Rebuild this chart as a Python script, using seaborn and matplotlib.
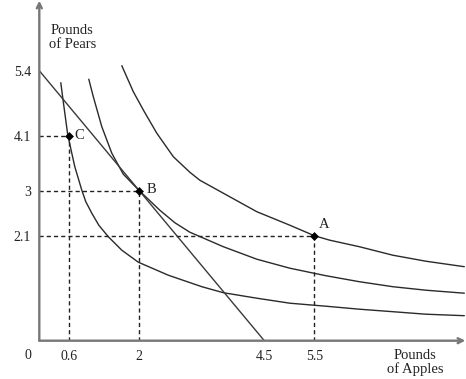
import matplotlib
matplotlib.use("Agg")
import matplotlib.pyplot as plt
import seaborn as sns
import pandas as pd

# ---- data ----
budget_x = [0.0, 4.5]
budget_y = [5.4, 0.0]

inner_x = [0.43, 0.47, 0.57, 0.71, 0.85, 0.93, 1.05, 1.19, 1.38, 1.65, 1.98, 2.58, 3.25,
           3.68, 4.35, 5.01, 5.73, 6.4, 7.07, 7.73, 8.5]
inner_y = [5.16, 4.85, 4.11, 3.48, 3.01, 2.78, 2.55, 2.31, 2.08, 1.81, 1.57, 1.31, 1.08,
           0.96, 0.85, 0.75, 0.69, 0.63, 0.58, 0.53, 0.5]

middle_x = [0.99, 1.08, 1.25, 1.45, 1.68, 2.0, 2.41, 2.71, 3.01, 3.68, 4.35, 5.01, 5.73,
            6.4, 7.07, 7.73, 8.5]
middle_y = [5.23, 4.88, 4.28, 3.75, 3.33, 3.0, 2.61, 2.36, 2.17, 1.88, 1.63, 1.45, 1.30,
            1.18, 1.08, 1.01, 0.95]

outer_x = [1.65, 1.88, 2.1, 2.35, 2.68, 3.01, 3.21, 3.68, 4.35, 5.01, 5.5, 5.81, 6.4,
           7.07, 7.73, 8.5]
outer_y = [5.5, 4.98, 4.58, 4.15, 3.68, 3.37, 3.21, 2.95, 2.58, 2.31, 2.1, 2.01, 1.88,
           1.71, 1.59, 1.48]

point_names = ["C", "B", "A"]
point_x = [0.6, 2.0, 5.5]
point_y = [4.1, 3.0, 2.1]

x_ticks = [0.6, 2, 4.5, 5.5]
x_tick_labels = ["0.6", "2", "4.5", "5.5"]
y_ticks = [2.1, 3, 4.1, 5.4]
y_tick_labels = ["2.1", "3", "4.1", "5.4"]

# ---- style ----
sns.set_theme(style="white")
plt.rcParams["font.family"] = ["Liberation Serif", "DejaVu Serif"]

W, H = 466, 379
fig = plt.figure(figsize=(W / 100, H / 100), dpi=100)
ax = fig.add_axes([39.3 / W, (H - 340.7) / H, 425 / W, 338.5 / H])
ax.set_xlim(0, 8.5)
ax.set_ylim(0, 6.77)

curve_col = "#2a2a2a"
for cx, cy in [(inner_x, inner_y), (middle_x, middle_y), (outer_x, outer_y)]:
    df = pd.DataFrame({"x": cx, "y": cy})
    sns.lineplot(data=df, x="x", y="y", sort=False, estimator=None,
                 color=curve_col, lw=1.0, ax=ax, clip_on=False)

bdf = pd.DataFrame({"x": budget_x, "y": budget_y})
sns.lineplot(data=bdf, x="x", y="y", sort=False, estimator=None,
             color="#3a3a3a", lw=1.0, ax=ax)

# dashed guide lines
for px, py in zip(point_x, point_y):
    ax.plot([0, px], [py, py], color="#222222", lw=1.0, ls=(0, (3, 2.2)))
    ax.plot([px, px], [0, py], color="#222222", lw=1.0, ls=(0, (3, 2.2)))

pdf = pd.DataFrame({"x": point_x, "y": point_y, "name": point_names})
sns.scatterplot(data=pdf, x="x", y="y", marker="D", s=16, color="black",
                edgecolor="black", linewidth=0.5, ax=ax, zorder=5)

label_offsets = {"C": (0.11, 0.0), "B": (0.14, 0.03), "A": (0.1, 0.23)}
for n, px, py in zip(point_names, point_x, point_y):
    dx, dy = label_offsets[n]
    ax.text(px + dx, py + dy, n, fontsize=10.5, color="#222222",
            ha="left", va="center")

# axes with arrows
for s in ax.spines.values():
    s.set_visible(False)
axis_col = "#777777"
ax.annotate("", xy=(8.52, 0), xytext=(0, 0), annotation_clip=False,
            arrowprops=dict(arrowstyle="->", color=axis_col, lw=1.7,
                            shrinkA=0, shrinkB=0, mutation_scale=9))
ax.annotate("", xy=(0, 6.8), xytext=(0, 0), annotation_clip=False,
            arrowprops=dict(arrowstyle="->", color=axis_col, lw=1.7,
                            shrinkA=0, shrinkB=0, mutation_scale=9))

ax.set_xticks(x_ticks)
ax.set_xticklabels(x_tick_labels)
ax.set_yticks(y_ticks)
ax.set_yticklabels(y_tick_labels)
ax.tick_params(axis="both", length=0, labelsize=10, colors="#222222")
ax.tick_params(axis="x", pad=7)
ax.tick_params(axis="y", pad=6)
ax.set_xlabel("")
ax.set_ylabel("")

ax.text(-0.23, -0.29, "0", fontsize=10, color="#222222", ha="center", va="center")
ax.text(0.66, 6.06, "Pounds\nof Pears", fontsize=10.5, color="#222222",
        ha="center", va="center", linespacing=1.05)
ax.text(7.51, -0.44, "Pounds\nof Apples", fontsize=10.5, color="#222222",
        ha="center", va="center", linespacing=1.05)

fig.savefig("out.png", dpi=100)
